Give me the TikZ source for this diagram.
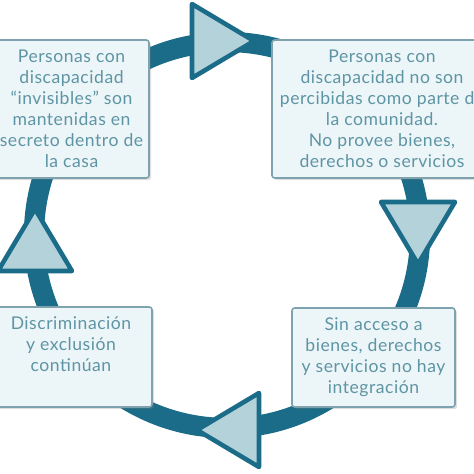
\documentclass[tikz,border=0pt]{standalone}
\usepackage{fontspec}
\setmainfont[LetterSpace=3]{Lato}
\usetikzlibrary{positioning,shadows}
\definecolor{ringteal}{HTML}{1A6C88}
\definecolor{trifill}{HTML}{B4D2DA}
\definecolor{boxfill}{HTML}{ECF5F8}
\definecolor{boxline}{HTML}{7FA3AE}
\definecolor{boxtext}{HTML}{5E95A4}

\begin{document}
\begin{tikzpicture}[x=0.02cm, y=-0.02cm,
    ring/.style={draw=ringteal, line width=11.5pt},
    arrowtri/.style={draw=ringteal, fill=trifill, line width=2.6pt, line join=round},
    infobox/.style={draw=boxline, fill=boxfill, line width=0.9pt, rounded corners=1.5pt,
        align=center, text=boxtext, font=\fontsize{10}{12}\selectfont,
        drop shadow={opacity=0.25, shadow xshift=1.2pt, shadow yshift=-1.2pt}}]
            \clip (0,0) rectangle (474,474);
            % Draw the ring
            \draw[ring] (227,235) circle[radius=193];
            % Arrow heads on the ring
            \foreach \ang/\px/\py in {0/223/41, -90/418/233, 180/228/430, 90/35/240}{
                \draw[arrowtri, shift={(\px,\py)}, rotate=\ang] (-31,-37) -- (31,0) -- (-31,37) -- cycle;
            }
            % Add the four boxes
            \node[infobox, minimum width=2.94cm, minimum height=2.76cm] (hidden) at (71.5,109)
                {Personas con\\ discapacidad\\ ``invisibles'' son\\ mantenidas en\\ secreto dentro de\\ la casa};
            \node[infobox, minimum width=4.4cm, minimum height=2.76cm] (unseen) at (382,109)
                {Personas con\\ discapacidad no son\\ percibidas como parte de\\ la comunidad.\\ No provee bienes,\\ derechos o servicios};
            \node[infobox, minimum width=3.26cm, minimum height=1.98cm] (noaccess) at (373.5,357.5)
                {Sin acceso a\\ bienes, derechos\\ y servicios no hay\\ integración};
            \node[infobox, minimum width=3.24cm, minimum height=2cm] (exclusion) at (71,357)
                {Discriminación\\ y exclusión\\ continúan\\[3pt]};
          \end{tikzpicture}
\end{document}
